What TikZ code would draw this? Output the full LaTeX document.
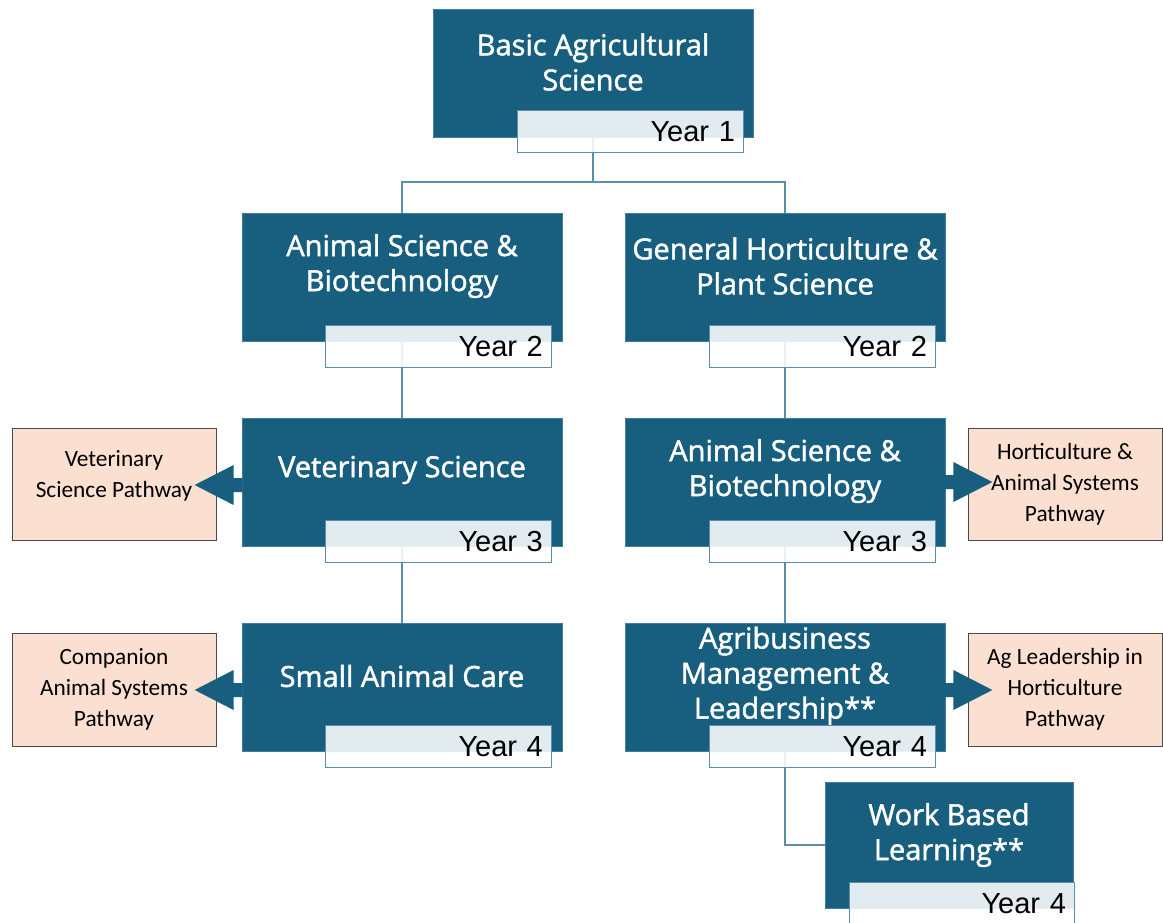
\documentclass[tikz,border=0pt]{standalone}
\usepackage{fontspec}
\setmainfont{Open Sans}
\newfontfamily\titlefont{Open Sans}[FakeBold=1.6]
\newfontfamily\yearfont{Liberation Sans}
\newfontfamily\pathfont{Carlito}
\definecolor{tealbox}{HTML}{185E7E}
\definecolor{tealedge}{HTML}{3F7E9C}
\definecolor{connc}{HTML}{5A8FA8}
\definecolor{peach}{HTML}{FBE0D2}
\definecolor{pathedge}{HTML}{4A4A4A}
\pgfdeclarelayer{bg}
\pgfsetlayers{bg,main}
\tikzset{
  course/.style={fill=tealbox, draw=tealedge, line width=0.8pt, minimum width=320pt, minimum height=128pt, inner sep=0pt},
  title/.style={text=white, align=center, font=\titlefont\fontsize{29}{35}\selectfont, inner sep=0pt},
  yearbox/.style={fill=white, fill opacity=0.88, text opacity=1, draw=connc, line width=1pt, minimum width=226pt, minimum height=42pt, text width=208pt, align=right, inner xsep=9pt, inner ysep=0pt, font=\yearfont\fontsize{29}{34}\selectfont, anchor=north east},
  pathbox/.style={fill=peach, draw=pathedge, line width=0.8pt, align=center, inner sep=0pt, font=\pathfont\fontsize{23.3}{31}\selectfont},
  pathtext/.style={align=center, inner sep=0pt, font=\pathfont\fontsize{23.3}{31}\selectfont},
  conn/.style={draw=connc, line width=1.6pt},
  blockarrow/.style={fill=tealbox}
}
\begin{document}
\begin{tikzpicture}[x=1pt,y=-1pt]
\useasboundingbox (0,0) rectangle (1163,923);
% course boxes
\node[course] (b1) at (593,73) {};
\node[course] (a2) at (402,277) {};
\node[course] (h2) at (785,277) {};
\node[course] (a3) at (402,482) {};
\node[course] (h3) at (785,482) {};
\node[course] (a4) at (402,687) {};
\node[course] (h4) at (785,687) {};
\node[course, minimum width=248pt, minimum height=126pt] (w4) at (949,845) {};
% titles
\node[title] (tb1) at ([yshift=11pt]b1.center) {Basic Agricultural\\Science};
\node[title] (ta2) at ([yshift=11pt]a2.center) {Animal Science \&\\Biotechnology};
\node[title] (th2) at ([yshift=11pt]h2.center) {General Horticulture \&\\Plant Science};
\node[title] (ta3) at ([yshift=12pt]a3.center) {Veterinary Science};
\node[title] (th3) at ([yshift=11pt]h3.center) {Animal Science \&\\Biotechnology};
\node[title] (ta4) at ([yshift=11pt]a4.center) {Small Animal Care};
\node[title] (th4) at ([yshift=11pt]h4.center) {Agribusiness\\Management \&\\Leadership**};
\node[title] (tw4) at ([yshift=10pt]w4.center) {Work Based\\Learning**};
% connectors
\coordinate (split) at (593,182);
\begin{pgfonlayer}{bg}
\draw[conn] (b1.south) -- (split) -| (a2.north);
\draw[conn] (split) -| (h2.north);
\draw[conn] (a2.south) -- (a3.north);
\draw[conn] (a3.south) -- (a4.north);
\draw[conn] (h2.south) -- (h3.north);
\draw[conn] (h3.south) -- (h4.north);
\draw[conn] (h4.south) |- (w4.west);
\end{pgfonlayer}
% year labels
\node[yearbox] (y1) at ([xshift=-9pt,yshift=27pt]b1.south east) {Year 1};
\node[yearbox] (ya2) at ([xshift=-10pt,yshift=16pt]a2.south east) {Year 2};
\node[yearbox] (yh2) at ([xshift=-9pt,yshift=16pt]h2.south east) {Year 2};
\node[yearbox] (ya3) at ([xshift=-10pt,yshift=26pt]a3.south east) {Year 3};
\node[yearbox] (yh3) at ([xshift=-9pt,yshift=26pt]h3.south east) {Year 3};
\node[yearbox] (ya4) at ([xshift=-10pt,yshift=26pt]a4.south east) {Year 4};
\node[yearbox] (yh4) at ([xshift=-9pt,yshift=26pt]h4.south east) {Year 4};
\node[yearbox, minimum width=225pt, text width=207pt] (yw4) at ([xshift=2pt,yshift=26pt]w4.south east) {Year 4};
% pathway boxes
\node[pathbox, minimum width=204pt, minimum height=112pt] (pv) at (114,484) {};
\node[pathtext] (pvt) at ([yshift=8pt]pv.center) {Veterinary\\Science Pathway};
\node[pathbox, minimum width=194pt, minimum height=112pt] (ph) at (1065,484) {Horticulture \&\\Animal Systems\\Pathway};
\node[pathbox, minimum width=204pt, minimum height=113pt] (pc) at (114,689.5) {Companion\\Animal Systems\\Pathway};
\node[pathbox, minimum width=194pt, minimum height=113pt] (pl) at (1065,689.5) {Ag Leadership in\\Horticulture\\Pathway};
% block arrows
\fill[blockarrow] ([yshift=-3pt]a3.west) ++(1,-7) -- ++(-9,0) -- ++(0,-13) -- ++(-39,20) -- ++(39,20) -- ++(0,-13) -- ++(9,0) -- cycle;
\fill[blockarrow] ([yshift=-3pt]a4.west) ++(1,-7) -- ++(-9,0) -- ++(0,-13) -- ++(-39,20) -- ++(39,20) -- ++(0,-13) -- ++(9,0) -- cycle;
\fill[blockarrow] (h3.east) ++(-1,-7) -- ++(9,0) -- ++(0,-13) -- ++(39,20) -- ++(-39,20) -- ++(0,-13) -- ++(-9,0) -- cycle;
\fill[blockarrow] ([yshift=-3pt]h4.east) ++(-1,-7) -- ++(9,0) -- ++(0,-13) -- ++(39,20) -- ++(-39,20) -- ++(0,-13) -- ++(-9,0) -- cycle;
\end{tikzpicture}
\end{document}
